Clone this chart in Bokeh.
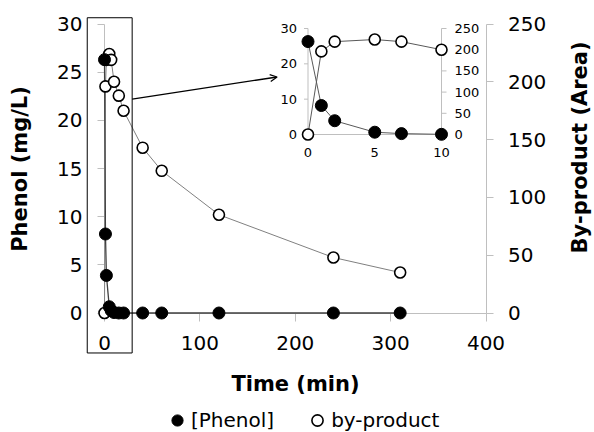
import numpy as np
from bokeh.plotting import figure
from bokeh.models import (Range1d, LinearAxis, FixedTicker, BoxAnnotation, Arrow,
                          OpenHead, Legend, LegendItem, ColumnDataSource, Label)
from bokeh.core.properties import value
from bokeh.embed import file_html
from bokeh.resources import INLINE

# ---------------- data ----------------
time_min = [0, 1, 2, 5, 7, 10, 15, 20, 40, 60, 120, 240, 310]
phenol = [26.3, 8.2, 3.9, 0.65, 0.25, 0.05, 0, 0, 0, 0, 0, 0, 0]
byproduct = [0, 196, 219, 224, 219, 200, 188, 175, 143, 123, 85, 48, 35]

x_ticks = [0, 100, 200, 300, 400]
y_ticks = [0, 5, 10, 15, 20, 25, 30]
y2_ticks = [0, 50, 100, 150, 200, 250]

inset_x_ticks = [0, 5, 10]
inset_y_ticks = [0, 10, 20, 30]
inset_y2_ticks = [0, 50, 100, 150, 200, 250]
INSET_T_MAX = 10

# zoom box / arrow (main-plot data coordinates)
BOX_T = (-18.1, 29.0)
BOX_Y = (-4.15, 30.65)
ARROW_FROM = (29.0, 22.2)
ARROW_TO = (181.0, 24.5)

# ---------------- layout (canvas pixels) ----------------
FIG_W, FIG_H = 594, 432
FL, FR, FT, FB = 0, FIG_W, 0, FIG_H        # frame covers the whole canvas
MX0, MX1 = 104.0, 485.5                    # t = 0, t = 400
MY0, MY1 = 312.5, 23.5                     # y = 0, y = 30
IX0, IX1 = 307.5, 441.0                    # inset t = 0, t = 10
IY0, IY1 = 134.0, 28.0                     # inset y = 0, y = 30
RIGHT_TITLE_XY = (579, 147)                # centre of right axis title (from top-left)

FONT = "DejaVu Sans"
GREY = "#BFBFBF"


def rng(v0, v1, p0, p1, f0, f1):
    k = (v1 - v0) / (p1 - p0)
    return Range1d(v0 + (f0 - p0) * k, v0 + (f1 - p0) * k)


x_rng = rng(0, 400, MX0, MX1, FL, FR)
y_rng = rng(0, 30, MY0, MY1, FB, FT)
y2_rng = rng(0, 250, MY0, MY1, FB, FT)
ix_rng = rng(0, 10, IX0, IX1, FL, FR)
iy_rng = rng(0, 30, IY0, IY1, FB, FT)
iy2_rng = rng(0, 250, IY0, IY1, FB, FT)

p = figure(width=FIG_W, height=FIG_H, x_range=x_rng, y_range=y_rng,
           output_backend="svg", toolbar_location=None, title=None,
           x_axis_location=None, y_axis_location=None,
           min_border_left=0, min_border_right=0, min_border_top=0, min_border_bottom=0)
p.grid.visible = False
p.outline_line_color = None
p.background_fill_color = "white"
p.border_fill_color = "white"
p.extra_y_ranges = {"byp": y2_rng, "iy": iy_rng, "iy2": iy2_rng}
p.extra_x_ranges = {"ix": ix_rng}

xaxis = LinearAxis(fixed_location=0, bounds=(0, 400), ticker=FixedTicker(ticks=x_ticks),
                   axis_label="Time (min)")
yaxis = LinearAxis(fixed_location=0, bounds=(0, 30), ticker=FixedTicker(ticks=y_ticks),
                   axis_label="Phenol (mg/L)")
raxis = LinearAxis(y_range_name="byp", fixed_location=400, bounds=(0, 250),
                   ticker=FixedTicker(ticks=y2_ticks))
for ax in (xaxis, yaxis, raxis):
    ax.level = "underlay"
    ax.axis_line_color = GREY
    ax.major_tick_line_color = GREY
    ax.minor_tick_line_color = None
    ax.major_tick_in = 0
    ax.major_tick_out = 7
    ax.major_label_standoff = 15
    ax.major_label_text_font = FONT
    ax.major_label_text_font_size = "20px"
    ax.major_label_text_color = "black"
    ax.axis_label_text_font = FONT
    ax.axis_label_text_font_style = "bold"
    ax.axis_label_text_font_size = "21px"
    ax.axis_label_text_color = "black"
xaxis.major_tick_out = 8
xaxis.axis_label_standoff = 18
yaxis.axis_label_standoff = 22
p.add_layout(xaxis, "below")
p.add_layout(yaxis, "left")
p.add_layout(raxis, "right")

p.add_layout(Label(text="By-product (Area)", x=RIGHT_TITLE_XY[0], y=FIG_H - RIGHT_TITLE_XY[1],
                   x_units="screen", y_units="screen", angle=np.pi / 2,
                   text_align="center", text_baseline="middle",
                   text_font=FONT, text_font_style="bold", text_font_size="21px",
                   text_color="black"))

src = ColumnDataSource(dict(t=time_min, ph=phenol, bp=byproduct))

# main series
p.line("t", "bp", source=src, y_range_name="byp", line_color="#808080", line_width=1)
p.line("t", "ph", source=src, line_color="#404040", line_width=1.3)
bp_sc = p.scatter("t", "bp", source=src, y_range_name="byp", size=11, marker="circle",
                  fill_color="white", line_color="black", line_width=1.6)
ph_sc = p.scatter("t", "ph", source=src, size=12, marker="circle",
                  fill_color="black", line_color="black")

# ---------------- inset ----------------
n_in = sum(1 for t in time_min if t <= INSET_T_MAX)
isrc = ColumnDataSource(dict(t=time_min[:n_in], ph=phenol[:n_in], bp=byproduct[:n_in]))

p.segment(x0=[0, 0, INSET_T_MAX], y0=[0, 0, 0],
          x1=[0, INSET_T_MAX, INSET_T_MAX], y1=[inset_y_ticks[-1], 0, inset_y_ticks[-1]],
          x_range_name="ix", y_range_name="iy", line_color=GREY, line_width=1)
p.ray(x=[0] * len(inset_y_ticks), y=inset_y_ticks, length=4, length_units="screen",
      angle=np.pi, x_range_name="ix", y_range_name="iy", line_color=GREY)
p.ray(x=[INSET_T_MAX] * len(inset_y2_ticks), y=inset_y2_ticks, length=5,
      length_units="screen", angle=0, x_range_name="ix", y_range_name="iy2", line_color=GREY)
p.text(x=[0] * len(inset_y_ticks), y=inset_y_ticks, text=[str(v) for v in inset_y_ticks],
       x_offset=-11, text_align="right", text_baseline="middle",
       x_range_name="ix", y_range_name="iy",
       text_font=value(FONT), text_font_size="13px", text_color="black")
p.text(x=inset_x_ticks, y=[0] * len(inset_x_ticks), text=[str(v) for v in inset_x_ticks],
       y_offset=18, text_align="center", text_baseline="middle",
       x_range_name="ix", y_range_name="iy",
       text_font=value(FONT), text_font_size="13px", text_color="black")
p.text(x=[INSET_T_MAX] * len(inset_y2_ticks), y=inset_y2_ticks,
       text=[str(v) for v in inset_y2_ticks],
       x_offset=13, text_align="left", text_baseline="middle",
       x_range_name="ix", y_range_name="iy2",
       text_font=value(FONT), text_font_size="13px", text_color="black")

p.line("t", "ph", source=isrc, x_range_name="ix", y_range_name="iy",
       line_color="#595959", line_width=1)
p.line("t", "bp", source=isrc, x_range_name="ix", y_range_name="iy2",
       line_color="#595959", line_width=1)
p.scatter("t", "ph", source=isrc, x_range_name="ix", y_range_name="iy", size=12,
          marker="circle", fill_color="black", line_color="black")
p.scatter("t", "bp", source=isrc, x_range_name="ix", y_range_name="iy2", size=11,
          marker="circle", fill_color="white", line_color="black", line_width=1.6)

# ---------------- box + arrow ----------------
p.add_layout(BoxAnnotation(left=BOX_T[0], right=BOX_T[1], bottom=BOX_Y[0], top=BOX_Y[1],
                           fill_color=None, fill_alpha=0, line_color="black",
                           line_width=1, line_alpha=1))
p.add_layout(Arrow(x_start=ARROW_FROM[0], y_start=ARROW_FROM[1],
                   x_end=ARROW_TO[0], y_end=ARROW_TO[1],
                   line_color="black", line_width=1.3,
                   end=OpenHead(size=7, line_width=1.2, line_color="black")))

# ---------------- legend ----------------
legend = Legend(items=[LegendItem(label="[Phenol]", renderers=[ph_sc]),
                       LegendItem(label="by-product", renderers=[bp_sc])],
                orientation="horizontal", location=(163, -2),
                glyph_width=28, glyph_height=28, label_standoff=0, spacing=29,
                padding=0, margin=0, border_line_color=None,
                background_fill_alpha=0,
                label_text_font=FONT, label_text_font_size="20px",
                label_text_color="black")
p.add_layout(legend)

open("out.html", "w").write(file_html(p, INLINE))
